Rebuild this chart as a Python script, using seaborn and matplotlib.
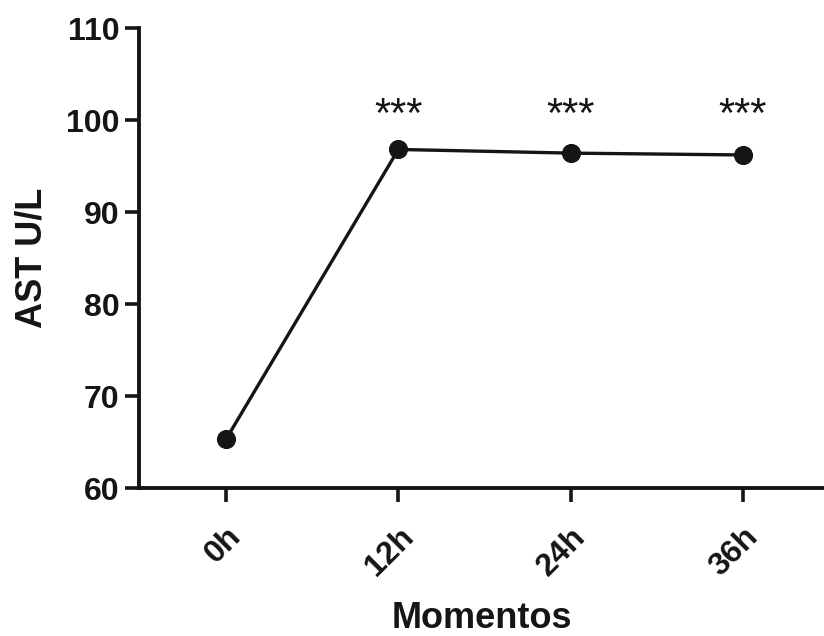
import numpy as np
import pandas as pd
import seaborn as sns
import matplotlib.pyplot as plt

momentos = ["0h", "12h", "24h", "36h"]
ast = [65.3, 96.8, 96.4, 96.2]
signif = ["", "***", "***", "***"]

ink = "#151515"

sns.set_style("ticks")
plt.rcParams['font.family'] = ['Liberation Sans', 'DejaVu Sans']

df = pd.DataFrame({"pos": np.arange(len(momentos)), "ast": ast})

fig = plt.figure(figsize=(8.24, 6.36), dpi=100)
ax = fig.add_axes([139 / 824, 1 - 488 / 636, 1 - 139 / 824, (488 - 28) / 636])

sns.lineplot(data=df, x="pos", y="ast", ax=ax, color=ink, linewidth=2.4,
             marker="o", markersize=13, markeredgecolor=ink, markerfacecolor=ink)

# asterisks of significance, above the points
for i, s in enumerate(signif):
    if s:
        ax.text(i, 100.4, s, ha="center", va="center", fontsize=30, color=ink)

ax.set_xlim(-0.505, 3.47)
ax.set_ylim(60, 110)
ax.set_yticks([60, 70, 80, 90, 100, 110])
ax.set_xticks(range(len(momentos)))
ax.set_xticklabels(momentos, rotation=45, ha="right", rotation_mode="anchor")
for lbl in ax.get_xticklabels() + ax.get_yticklabels():
    lbl.set_fontweight("bold")
    lbl.set_fontsize(23)
    lbl.set_color(ink)

ax.tick_params(axis="both", length=10, width=2.6, color=ink, pad=4)
ax.tick_params(axis="x", pad=14)
for side in ["top", "right"]:
    ax.spines[side].set_visible(False)
for side in ["left", "bottom"]:
    ax.spines[side].set_linewidth(2.8)
    ax.spines[side].set_color(ink)

ax.set_xlabel("Momentos", fontsize=26, fontweight="bold", color=ink, labelpad=14)
ax.set_ylabel("AST U/L", fontsize=26, fontweight="bold", color=ink, labelpad=12)

fig.savefig("out.png", dpi=100)
